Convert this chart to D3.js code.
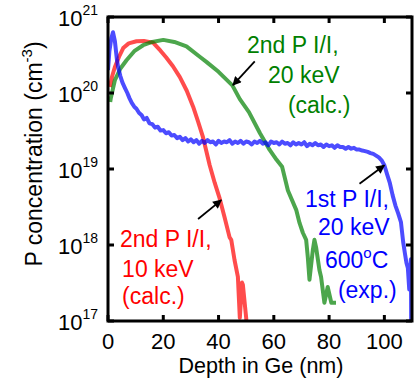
<!DOCTYPE html>
<html>
<head>
<meta charset="utf-8">
<script src="https://cdn.jsdelivr.net/npm/d3@7"></script>
<style>
  body { margin: 0; background: #fff; }
  svg { display: block; }
</style>
</head>
<body>
<div id="chart"></div>
<script>
// depth (nm), P concentration (cm^-3)
const blueDepth = [0, 0.5, 1.2, 1.8, 2.5, 3.2, 3.7, 4.5, 5.2, 6.1, 7.0, 7.8, 8.6, 9.5, 10.3, 11.2, 12.2,
  13, 14, 15, 16, 17, 18, 19, 20, 21, 22, 23, 24, 25, 26, 27, 28, 29, 30, 31, 32, 33, 34, 35, 36, 37, 38, 39, 40,
  41, 42, 43, 44, 45, 46, 47, 48, 49, 50, 51, 52, 53, 54, 55, 56, 57, 58, 59, 60,
  61, 62, 63, 64, 65, 66, 67, 68, 69, 70, 71, 72, 73, 74, 75, 76, 77, 78, 79, 80,
  81, 82, 83, 84, 85, 86, 87, 88, 89, 90, 91, 92, 93, 94, 95, 96, 97, 98, 99, 100,
  101, 102, 103, 104, 105, 106, 106.8, 107.5, 108, 108.5, 109.0, 109.3, 109.6, 109.7, 110.2];
const blueConc = [2.0e20, 3.55e20, 5.25e20, 6.3e20, 4.8e20, 2.8e20, 2.15e20, 1.66e20, 1.38e20, 1.17e20, 1.0e20, 8.5e19, 7.4e19, 6.6e19, 6.2e19, 5.5e19, 5.1e19,
  4.5e19, 4.7e19, 4.0e19, 3.9e19, 3.5e19, 3.6e19, 3.2e19, 3.25e19, 2.95e19, 3.05e19, 2.75e19, 2.8e19, 2.55e19, 2.65e19, 2.4e19, 2.55e19, 2.3e19, 2.45e19, 2.25e19, 2.4e19, 2.15e19, 2.35e19, 2.2e19, 2.4e19, 2.25e19, 2.3e19, 2.1e19, 2.35e19,
  2.2e19, 2.3e19, 2.25e19, 2.4e19, 2.15e19, 2.3e19, 2.2e19, 2.35e19, 2.15e19, 2.3e19, 2.25e19, 2.1e19, 2.3e19, 2.2e19, 2.35e19, 2.15e19, 2.25e19, 2.05e19, 2.3e19, 2.2e19,
  2.25e19, 2.1e19, 2.3e19, 2.15e19, 2.2e19, 2.05e19, 2.25e19, 2.1e19, 2.2e19, 2.1e19, 2.25e19, 2.0e19, 2.15e19, 2.05e19, 2.2e19, 2.05e19, 2.1e19, 1.95e19, 2.1e19, 2.0e19,
  2.05e19, 1.9e19, 2.05e19, 1.95e19, 1.95e19, 1.85e19, 1.95e19, 1.85e19, 1.9e19, 1.8e19, 1.8e19, 1.75e19, 1.72e19, 1.68e19, 1.62e19, 1.58e19, 1.5e19, 1.42e19, 1.3e19, 1.12e19,
  8.5e18, 6.5e18, 4.5e18, 3.3e18, 2.6e18, 2.0e18, 1.1e18, 7.5e17, 5.8e17, 5.0e17, 2.6e17, 3.5e17, 6.5e17, 1.0e17, 5e16];

const greenDepth = [0.8, 1.0, 2.5, 4.5, 6.7, 9.5, 12.7, 16, 20, 24, 28.4, 33.2, 35.6, 40, 45, 47.7, 51, 55, 58.5, 61, 63,
  65.1, 68.1, 69.3, 70.5, 71.7, 72.3, 72.9, 74.1, 74.7, 75.3, 76.5, 77.1, 78.3, 79.5, 80.8, 82.5];
const greenConc = [7.6e19, 8.5e19, 1.48e20, 2.1e20, 2.7e20, 3.55e20, 4.25e20, 4.7e20, 5.0e20, 4.7e20, 4.1e20, 3.0e20, 2.57e20, 1.9e20, 1.26e20, 8.3e19, 5.6e19, 2.95e19, 1.78e19, 1.32e19, 1.07e19,
  5.2e18, 2.9e18, 1.95e18, 1.45e18, 1.17e18, 6.9e17, 3.5e17, 8.5e17, 1.17e18, 9.3e17, 4.7e17, 3.8e17, 1.74e17, 2.8e17, 1.74e17, 1.74e17];

const redDepth = [0.7, 1.5, 2.5, 4.0, 5.5, 7.5, 10.3, 13, 16.3, 19, 21, 23.5, 26, 28.5, 30.8, 32.6, 34.4, 36.8, 38.6, 40.4, 42.2, 44, 44.6,
  45.8, 47, 47.7, 48.5, 48.8, 50, 50.5];
const redConc = [1.2e20, 1.66e20, 2.2e20, 3.0e20, 3.9e20, 4.5e20, 4.8e20, 4.85e20, 4.6e20, 3.6e20, 2.95e20, 2.25e20, 1.62e20, 1.07e20, 6.6e19, 4.2e19, 2.6e19, 1.12e19, 6.6e18, 4.1e18, 2.3e18, 1.26e18, 1.17e18,
  6.3e17, 3.8e17, 1.1e17, 3.2e17, 3.0e17, 1.1e17, 5e16];

const xTicks = [0, 20, 40, 60, 80, 100];
const yTicks = [1e17, 1e18, 1e19, 1e20, 1e21];
const yTickExp = ["17", "18", "19", "20", "21"];

// arrows: [x tail, y tail, x head, y head]
const arrowGreen = [53.1, 2.6e20, 45.2, 1.27e20];
const arrowRed = [32.6, 2.2e18, 41.0, 3.9e18];
const arrowBlue = [91, 6.4e18, 100, 1.12e19];

// label lines: [text, depth, conc] at baseline start
const greenLabel = [["2nd P I/I,", 50.3, 3.36e20], ["20 keV", 57.9, 1.36e20], ["(calc.)", 65.1, 5.46e19]];
const redLabel = [["2nd P I/I,", 4.3, 9.4e17], ["10 keV", 5.1, 3.8e17], ["(calc.)", 5.1, 1.68e17]];
const blueLabel = [["1st P I/I,", 71.3, 3.16e18], ["20 keV", 76.0, 1.36e18], ["600", 78.5, 4.98e17], ["(exp.)", 83.2, 2.0e17]];

const width = 420, height = 384;
const margin = { top: 17, right: 8, bottom: 63, left: 108 };
const font = "'Liberation Sans', Arial, sans-serif";

const svg = d3.select("#chart").append("svg")
  .attr("width", width)
  .attr("height", height);

const x = d3.scaleLinear().domain([0, 110]).range([margin.left, width - margin.right]);
const y = d3.scaleLog().domain([1e17, 1e21]).range([height - margin.bottom, margin.top]);

svg.append("clipPath").attr("id", "clip")
  .append("rect")
  .attr("x", margin.left).attr("y", margin.top)
  .attr("width", width - margin.left - margin.right)
  .attr("height", height - margin.top - margin.bottom);

const line = d3.line().x(d => x(d[0])).y(d => y(d[1]));

const series = [
  { depth: redDepth, conc: redConc, color: "red" },
  { depth: greenDepth, conc: greenConc, color: "green" },
  { depth: blueDepth, conc: blueConc, color: "blue" }
];

const plot = svg.append("g").attr("clip-path", "url(#clip)");
series.forEach(s => {
  plot.append("path")
    .datum(s.depth.map((d, i) => [d, s.conc[i]]))
    .attr("d", line)
    .attr("fill", "none")
    .attr("stroke", s.color)
    .attr("stroke-opacity", 0.7)
    .attr("stroke-width", 4)
    .attr("stroke-linejoin", "round");
});

// frame + ticks (inward, all four sides)
const tickLen = 6;
const x0 = x.range()[0], x1 = x.range()[1], y0 = y.range()[0], y1 = y.range()[1];
const ticks = svg.append("g").attr("stroke", "black").attr("stroke-width", 3);
xTicks.forEach(t => {
  ticks.append("line").attr("x1", x(t)).attr("x2", x(t)).attr("y1", y0).attr("y2", y0 - tickLen);
  ticks.append("line").attr("x1", x(t)).attr("x2", x(t)).attr("y1", y1).attr("y2", y1 + tickLen);
});
yTicks.forEach(t => {
  ticks.append("line").attr("x1", x0).attr("x2", x0 + tickLen).attr("y1", y(t)).attr("y2", y(t));
  ticks.append("line").attr("x1", x1).attr("x2", x1 - tickLen).attr("y1", y(t)).attr("y2", y(t));
});
svg.append("rect")
  .attr("x", x0).attr("y", y1)
  .attr("width", x1 - x0).attr("height", y0 - y1)
  .attr("fill", "none").attr("stroke", "black").attr("stroke-width", 3);

// tick labels
svg.selectAll(".xlab")
  .data(xTicks)
  .enter().append("text")
  .attr("x", d => x(d))
  .attr("y", y0 + 28)
  .attr("text-anchor", "middle")
  .style("font-family", font)
  .style("font-size", "22px")
  .text(d => d);

const ylab = svg.selectAll(".ylab")
  .data(yTicks)
  .enter().append("text")
  .attr("x", x0 - 10)
  .attr("y", d => y(d) + 9)
  .attr("text-anchor", "end")
  .style("font-family", font)
  .style("font-size", "22px");
ylab.append("tspan").text("10");
ylab.append("tspan").attr("dy", -11).style("font-size", "14px").text((d, i) => yTickExp[i]);

// axis titles
svg.append("text")
  .attr("x", (x0 + x1) / 2 + 1)
  .attr("y", 373)
  .attr("text-anchor", "middle")
  .style("font-family", font)
  .style("font-size", "21.5px")
  .text("Depth in Ge (nm)");

const yt = svg.append("text")
  .attr("transform", "translate(42,154) rotate(-90)")
  .attr("text-anchor", "middle")
  .style("font-family", font)
  .style("font-size", "23px");
yt.append("tspan").text("P concentration (cm");
yt.append("tspan").attr("dy", -10).style("font-size", "15px").text("-3");
yt.append("tspan").attr("dy", 10).text(")");

// annotations
svg.append("defs").append("marker")
  .attr("id", "head")
  .attr("viewBox", "0 0 10 10")
  .attr("refX", 9).attr("refY", 5)
  .attr("markerWidth", 6).attr("markerHeight", 5)
  .attr("markerUnits", "strokeWidth")
  .attr("orient", "auto")
  .append("path").attr("d", "M0,0 L10,5 L0,10 z").attr("fill", "black");

[arrowGreen, arrowRed, arrowBlue].forEach(a => {
  svg.append("line")
    .attr("x1", x(a[0])).attr("y1", y(a[1]))
    .attr("x2", x(a[2])).attr("y2", y(a[3]))
    .attr("stroke", "black")
    .attr("stroke-width", 1.8)
    .attr("marker-end", "url(#head)");
});

function addLabel(lines, color) {
  lines.forEach(l => {
    const t = svg.append("text")
      .attr("x", x(l[1]))
      .attr("y", y(l[2]))
      .attr("fill", color)
      .style("font-family", font)
      .style("font-size", "23px");
    t.append("tspan").text(l[0]);
    if (l[0] === "600") {
      t.append("tspan").attr("dy", -10).style("font-size", "15px").text("o");
      t.append("tspan").attr("dy", 10).text("C");
    }
  });
}
addLabel(greenLabel, "#008000");
addLabel(redLabel, "#ff0000");
addLabel(blueLabel, "#0000ff");
</script>
</body>
</html>
